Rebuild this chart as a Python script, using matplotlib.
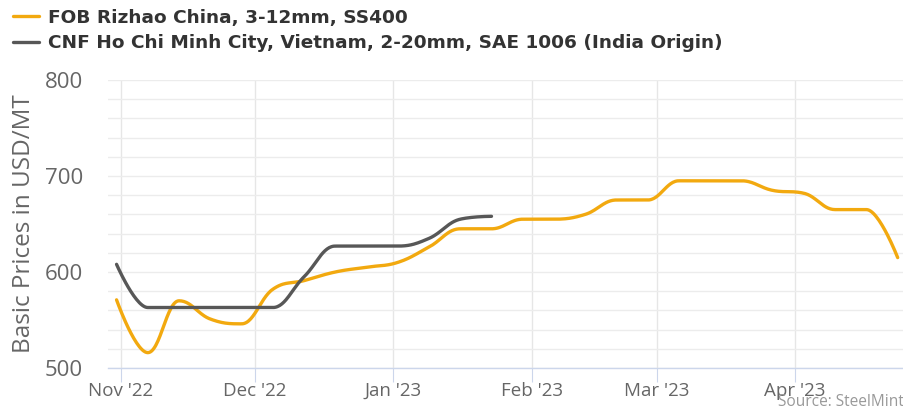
import numpy as np
import matplotlib
matplotlib.use("Agg")
import matplotlib.pyplot as plt
import matplotlib.dates as mdates

# ---------------- DATA ----------------
fob_dates = np.arange(np.datetime64("2022-10-31"), np.datetime64("2023-04-25"), np.timedelta64(7, "D"))
fob_prices = [571, 516, 570, 551, 546, 582, 591, 600, 605, 610, 626, 645, 645,
              655, 655, 660, 675, 675, 695, 695, 695, 685, 682, 665, 665, 615]

cnf_dates = np.arange(np.datetime64("2022-10-31"), np.datetime64("2023-01-24"), np.timedelta64(7, "D"))
cnf_prices = [608, 563, 563, 563, 563, 563, 595, 627, 627, 627, 635, 655, 658]

series_labels = ["FOB Rizhao China, 3-12mm, SS400",
                 "CNF Ho Chi Minh City, Vietnam, 2-20mm, SAE 1006 (India Origin)"]
month_ticks = np.arange(np.datetime64("2022-11"), np.datetime64("2023-05"), np.timedelta64(1, "M"))
y_ticks = [500, 600, 700, 800]

ORANGE = "#f2a90f"
GRAY = "#575757"


# ---------------- SPLINE (highcharts style) ----------------
def spline(xs, ys, smoothing=1.5, n=30):
    xs = np.asarray(xs, float)
    ys = np.asarray(ys, float)
    denom = smoothing + 1
    lc = [(x, y) for x, y in zip(xs, ys)]
    rc = [(x, y) for x, y in zip(xs, ys)]
    for i in range(1, len(xs) - 1):
        px, py = xs[i], ys[i]
        lx, ly = xs[i - 1], ys[i - 1]
        nx, ny = xs[i + 1], ys[i + 1]
        lcx = (smoothing * px + lx) / denom
        lcy = (smoothing * py + ly) / denom
        rcx = (smoothing * px + nx) / denom
        rcy = (smoothing * py + ny) / denom
        if rcx != lcx:
            corr = ((rcy - lcy) * (rcx - px)) / (rcx - lcx) + py - rcy
            lcy += corr
            rcy += corr
        if lcy > ly and lcy > py:
            lcy = max(ly, py); rcy = 2 * py - lcy
        elif lcy < ly and lcy < py:
            lcy = min(ly, py); rcy = 2 * py - lcy
        if rcy > ny and rcy > py:
            rcy = max(ny, py); lcy = 2 * py - rcy
        elif rcy < ny and rcy < py:
            rcy = min(ny, py); lcy = 2 * py - rcy
        lc[i] = (lcx, lcy)
        rc[i] = (rcx, rcy)
    t = np.linspace(0, 1, n)[:, None]
    out = [np.array([[xs[0], ys[0]]])]
    for i in range(1, len(xs)):
        p0 = np.array([xs[i - 1], ys[i - 1]])
        p1 = np.array(rc[i - 1])
        p2 = np.array(lc[i])
        p3 = np.array([xs[i], ys[i]])
        seg = ((1 - t) ** 3) * p0 + 3 * ((1 - t) ** 2) * t * p1 + 3 * (1 - t) * t ** 2 * p2 + t ** 3 * p3
        out.append(seg[1:])
    out = np.vstack(out)
    return out[:, 0], out[:, 1]


def dnum(arr):
    return mdates.date2num(np.asarray(arr).astype("datetime64[m]").astype(object))


# ---------------- PLOT ----------------
plt.rcParams["font.family"] = ["Open Sans", "DejaVu Sans"]

fig = plt.figure(figsize=(9.04, 4.2), dpi=100)
ax = fig.add_axes([108 / 904, 52 / 420, 796 / 904, 288 / 420])

fx, fy = spline(dnum(fob_dates), fob_prices)
cx, cy = spline(dnum(cnf_dates), cnf_prices)

ax.plot(fx, fy, color=ORANGE, lw=2.4, label=series_labels[0], solid_capstyle="round", zorder=3)
ax.plot(cx, cy, color=GRAY, lw=2.4, label=series_labels[1], solid_capstyle="round", zorder=4)

ax.set_ylim(500, 800)
ax.set_xlim(dnum(np.datetime64("2022-10-29T02:00")), dnum(np.datetime64("2023-04-25T10:00")))

ax.set_yticks(y_ticks)
ax.set_yticks(np.arange(500, 801, 20), minor=True)
ax.set_xticks(dnum(month_ticks.astype("datetime64[D]")))
ax.xaxis.set_major_formatter(mdates.DateFormatter("%b '%y"))

ax.grid(axis="y", which="both", color="#ececec", lw=1)
ax.grid(axis="x", which="major", color="#e6e6e6", lw=1)
ax.set_axisbelow(True)

for s in ["top", "right", "left"]:
    ax.spines[s].set_visible(False)
ax.spines["bottom"].set_color("#ccd6eb")
ax.spines["bottom"].set_linewidth(1)

ax.tick_params(axis="y", which="both", length=0, labelsize=16, labelcolor="#666666", pad=18)
ax.tick_params(axis="x", which="major", length=10, color="#ccd6eb", labelsize=13.5,
               labelcolor="#666666", pad=0)

ax.set_ylabel("Basic Prices in USD/MT", fontsize=17.5, color="#666666")
ax.yaxis.set_label_coords(-0.090, 0.5)

fig.legend(loc="upper left", bbox_to_anchor=(0.006, 0.997), frameon=False,
           prop={"size": 13.3, "weight": "bold", "family": "DejaVu Sans"}, labelcolor="#333333",
           handlelength=1.4, handletextpad=0.5, labelspacing=0.4, borderaxespad=0)

fig.text(1.0, 0.033, "Source: SteelMint", ha="right", va="baseline", fontsize=11.2,
         color="#999999")

fig.savefig("out.png", dpi=100)
